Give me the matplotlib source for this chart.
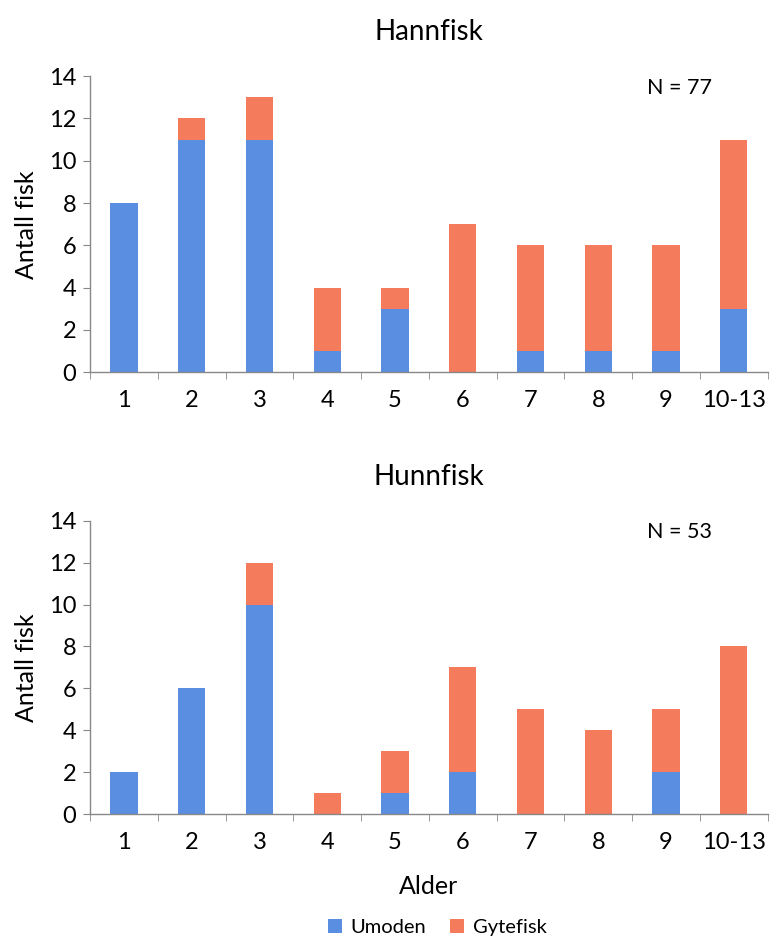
import matplotlib.pyplot as plt
import numpy as np

plt.rcParams['font.family'] = ['Lato', 'DejaVu Sans']

alder = ['1', '2', '3', '4', '5', '6', '7', '8', '9', '10-13']

hann_umoden = [8, 11, 11, 1, 3, 0, 1, 1, 1, 3]
hann_gyte = [0, 1, 2, 3, 1, 7, 5, 5, 5, 8]

hunn_umoden = [2, 6, 10, 0, 1, 2, 0, 0, 2, 0]
hunn_gyte = [0, 0, 2, 1, 2, 5, 5, 4, 3, 8]

blue = '#5a8ee0'
orange = '#f47b5b'

fig = plt.figure(figsize=(7.7, 9.4), dpi=100)
ax1 = fig.add_axes([0.117, 0.604, 0.88, 0.315])
ax2 = fig.add_axes([0.117, 0.134, 0.88, 0.312])


def draw_panel(ax, umoden, gyte, title):
    x = np.arange(len(alder))
    ax.bar(x, umoden, width=0.4, color=blue, label='Umoden')
    ax.bar(x, gyte, width=0.4, bottom=umoden, color=orange, label='Gytefisk')
    n = int(np.sum(umoden) + np.sum(gyte))

    ax.set_xlim(-0.5, len(alder) - 0.5)
    ax.set_ylim(0, 14)
    ax.set_yticks(range(0, 15, 2))
    ax.set_xticks(x)
    ax.set_xticklabels(alder)
    ax.set_xticks(np.arange(-0.5, len(alder), 1.0), minor=True)
    ax.tick_params(axis='x', which='major', length=0, pad=13, labelsize=17)
    ax.tick_params(axis='x', which='minor', length=5, direction='out', color='#888888')
    ax.tick_params(axis='y', length=5, direction='out', color='#888888', labelsize=17,
                   pad=5)

    for side in ['top', 'right']:
        ax.spines[side].set_visible(False)
    for side in ['left', 'bottom']:
        ax.spines[side].set_color('#888888')
        ax.spines[side].set_linewidth(1.0)

    ax.set_ylabel('Antall fisk', fontsize=18, labelpad=8)
    ax.set_title(title, fontsize=20, pad=26)
    ax.text(0.87, 0.96, f'N = {n}', transform=ax.transAxes, fontsize=15.5,
            ha='center', va='center')


draw_panel(ax1, hann_umoden, hann_gyte, 'Hannfisk')
draw_panel(ax2, hunn_umoden, hunn_gyte, 'Hunnfisk')
ax2.set_xlabel('Alder', fontsize=18, labelpad=16)

handles, labels = ax2.get_legend_handles_labels()
fig.legend(handles, labels, loc='center', bbox_to_anchor=(0.568, 0.013), ncol=2,
           frameon=False, fontsize=14.5, handlelength=0.7, handleheight=0.7,
           handletextpad=0.4, columnspacing=1.2)

fig.savefig('out.png', dpi=100)
